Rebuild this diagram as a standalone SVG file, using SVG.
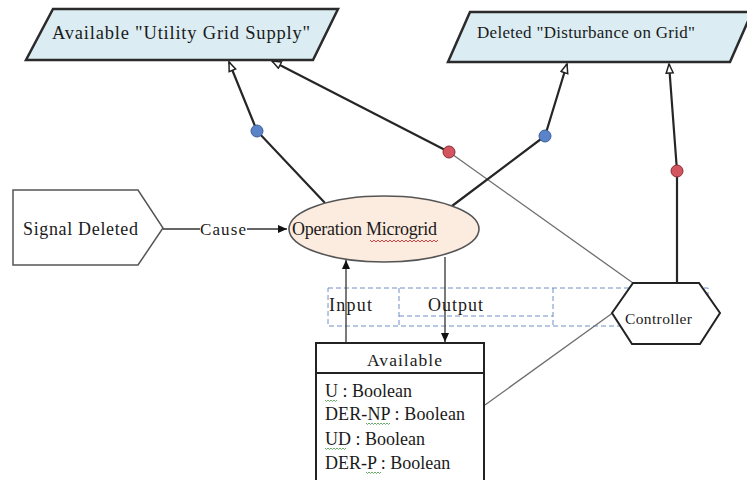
<svg xmlns="http://www.w3.org/2000/svg" width="747" height="480" viewBox="0 0 747 480">
<style>
  .serif { font-family: "Liberation Serif", "Times New Roman", serif; fill: #1a1a1a; }
  .para { fill: #dbedf3; stroke: #2b2b2b; stroke-width: 2.5; }
  .thick { fill: none; stroke: #262626; stroke-width: 2.2; }
  .thin { fill: none; stroke: #6e6e6e; stroke-width: 1.3; }
  .conn { fill: none; stroke: #333; stroke-width: 1.3; }
  .dash { fill: none; stroke: #6f8fc9; stroke-width: 1; stroke-dasharray: 5 3; }
  .blue { fill: #5b84c8; stroke: #3e5f98; stroke-width: 1; }
  .red { fill: #d25560; stroke: #8a2d35; stroke-width: 1; }
  .sqg { fill: none; stroke: #5aa05a; stroke-width: 0.9; }
  .sqr { fill: none; stroke: #d03030; stroke-width: 0.9; }
</style>
<defs>
  <marker id="open" markerUnits="userSpaceOnUse" markerWidth="12" markerHeight="12" refX="10" refY="4.5" orient="auto">
    <path d="M1,1 L10,4.5 L1,8 Z" fill="#fff" stroke="#222" stroke-width="1.5"/>
  </marker>
  <marker id="fill" markerUnits="userSpaceOnUse" markerWidth="12" markerHeight="12" refX="9" refY="4" orient="auto">
    <path d="M0,0 L9,4 L0,8 Z" fill="#111"/>
  </marker>
</defs>

<g id="io-partition">
  <rect class="dash" x="328" y="288" width="380" height="38"/>
  <line class="dash" x1="399" y1="288" x2="399" y2="326"/>
  <line class="dash" x1="553" y1="288" x2="553" y2="326"/>
  <line class="dash" x1="399" y1="316" x2="553" y2="316"/>
</g>

<g id="connectors">
  <polyline class="thick" points="325,203 257,131 229,62" marker-end="url(#open)"/>
  <line class="thin" x1="633" y1="283" x2="449" y2="152"/>
  <line class="thick" x1="449" y1="152" x2="272" y2="61" marker-end="url(#open)"/>
  <polyline class="thick" points="452,206 545,136 567,64" marker-end="url(#open)"/>
  <polyline class="thick" points="677,283 677,171 669,64" marker-end="url(#open)"/>
  <line class="conn" x1="163" y1="229" x2="200" y2="229"/>
  <line class="conn" x1="247" y1="229" x2="287" y2="229" marker-end="url(#fill)"/>
  <line class="conn" x1="346" y1="343" x2="346" y2="260" marker-end="url(#fill)"/>
  <line class="conn" x1="445" y1="257" x2="445" y2="342" marker-end="url(#fill)"/>
  <line class="thin" x1="485" y1="405" x2="614" y2="312"/>
  <text class="serif" x="200" y="235" font-size="17" textLength="46">Cause</text>
  <circle class="blue" cx="257" cy="131" r="6"/>
  <circle class="red" cx="449" cy="152" r="6"/>
  <circle class="blue" cx="545" cy="136" r="6"/>
  <circle class="red" cx="677" cy="171" r="6"/>
</g>

<g id="io-labels">
  <text class="serif" x="329" y="311" font-size="18" textLength="43">Input</text>
  <text class="serif" x="428" y="311" font-size="18" textLength="55">Output</text>
</g>

<g id="utility-grid-supply">
  <polygon class="para" points="53,9 338,9 313,60 26,60"/>
  <text class="serif" x="52" y="39" font-size="18.5" textLength="258">Available "Utility Grid Supply"</text>
</g>

<g id="disturbance-on-grid">
  <polygon class="para" points="470,12 752,12 730,62 448,62"/>
  <text class="serif" x="477" y="38" font-size="17" textLength="218">Deleted "Disturbance on Grid"</text>
</g>

<g id="signal-deleted">
  <polygon points="13,190 138,190 163,228 138,265 13,265" fill="#fff" stroke="#555" stroke-width="1.5"/>
  <text class="serif" x="23" y="235" font-size="18" textLength="115">Signal Deleted</text>
</g>

<g id="operation-microgrid">
  <ellipse cx="384" cy="229" rx="95" ry="33" fill="#fcebdf" stroke="#555" stroke-width="1.6"/>
  <text class="serif" x="292" y="235" font-size="18" textLength="145">Operation Microgrid</text>
  <path class="sqr" d="M370,240 l2,2 l2,-2 l2,2 l2,-2 l2,2 l2,-2 l2,2 l2,-2 l2,2 l2,-2 l2,2 l2,-2 l2,2 l2,-2 l2,2 l2,-2 l2,2 l2,-2 l2,2 l2,-2 l2,2 l2,-2 l2,2 l2,-2 l2,2 l2,-2 l2,2 l2,-2 l2,2 l2,-2 l2,2 l2,-2 l2,2 l2,-2"/>
</g>

<g id="controller">
  <polygon points="612,313 633,283 699,283 720,313 700,344 632,344" fill="#fff" stroke="#222" stroke-width="2"/>
  <text class="serif" x="625" y="324" font-size="15.5" textLength="67">Controller</text>
</g>

<g id="available">
  <rect x="316" y="343" width="168" height="140" fill="#fff" stroke="#222" stroke-width="2"/>
  <line x1="316" y1="373" x2="484" y2="373" stroke="#222" stroke-width="2"/>
  <text class="serif" x="367" y="366" font-size="17.5" textLength="75">Available</text>
  <text class="serif" x="325" y="397" font-size="18">U : Boolean</text>
  <text class="serif" x="325" y="420" font-size="18" textLength="140">DER-NP : Boolean</text>
  <text class="serif" x="325" y="445" font-size="18">UD : Boolean</text>
  <text class="serif" x="325" y="469" font-size="18">DER-P : Boolean</text>
  <path class="sqg" d="M325,400 l1.5,1.5 l1.5,-1.5 l1.5,1.5 l1.5,-1.5 l1.5,1.5 l1.5,-1.5 l1.5,1.5 l1.5,-1.5"/>
  <path class="sqg" d="M366,423 l1.5,1.5 l1.5,-1.5 l1.5,1.5 l1.5,-1.5 l1.5,1.5 l1.5,-1.5 l1.5,1.5 l1.5,-1.5 l1.5,1.5 l1.5,-1.5 l1.5,1.5 l1.5,-1.5 l1.5,1.5 l1.5,-1.5 l1.5,1.5 l1.5,-1.5"/>
  <path class="sqg" d="M325,448 l1.5,1.5 l1.5,-1.5 l1.5,1.5 l1.5,-1.5 l1.5,1.5 l1.5,-1.5 l1.5,1.5 l1.5,-1.5 l1.5,1.5 l1.5,-1.5 l1.5,1.5 l1.5,-1.5 l1.5,1.5 l1.5,-1.5"/>
  <path class="sqg" d="M366,472 l1.5,1.5 l1.5,-1.5 l1.5,1.5 l1.5,-1.5 l1.5,1.5 l1.5,-1.5 l1.5,1.5 l1.5,-1.5 l1.5,1.5 l1.5,-1.5"/>
</g>
</svg>
